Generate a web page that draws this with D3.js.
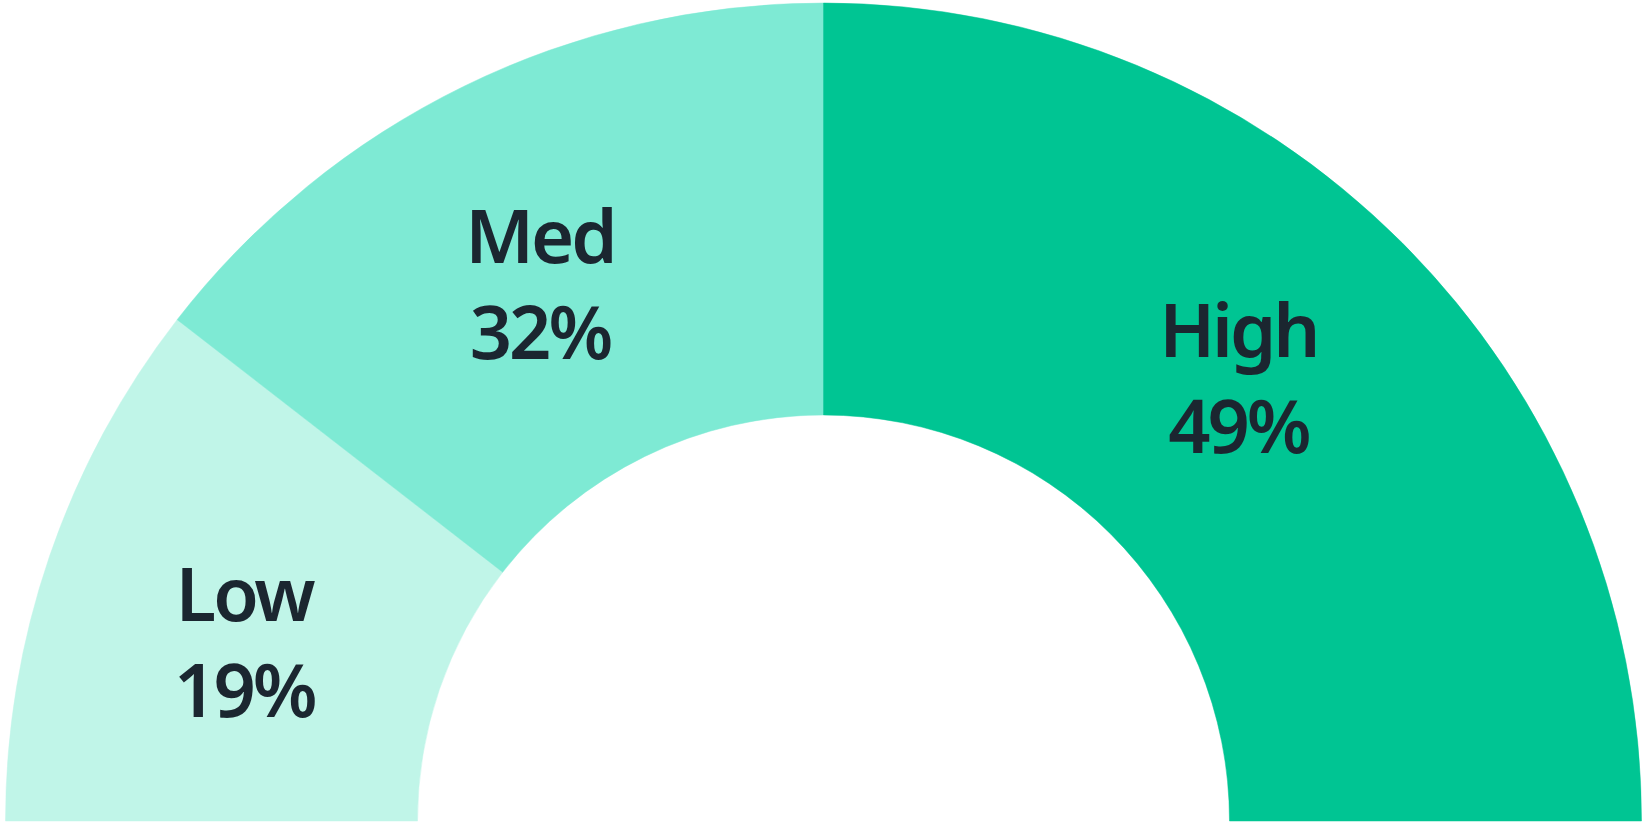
<!DOCTYPE html>
<html lang="en">
<head>
    <meta charset="UTF-8">
    <title>Gauge</title>
    <script src="https://cdn.jsdelivr.net/npm/d3@7"></script>
    <style>
        body { margin: 0; background: #fff; }
    </style>
</head>
<body>
    <script>
        // band names, where each band ends on the 0-100 gauge, and the share shown in the label
        const bands = ['Low', 'Med', 'High'];
        const bandEnds = [21, 50, 100];
        const shares = [19, 32, 49];
        const bandColors = ['#c0f5e8', '#7eead4', '#00c593'];

        const width = 1645;
        const height = 824;
        const cx = 823.5;
        const cy = 821;
        const outerR = 818;
        const innerR = 406;

        const svg = d3.select('body')
            .append('svg')
            .attr('width', width)
            .attr('height', height);

        const g = svg.append('g')
            .attr('transform', `translate(${cx},${cy})`);

        // gauge value -> angle (left end to right end of the half circle)
        const angle = d3.scaleLinear()
            .domain([0, 100])
            .range([-Math.PI / 2, Math.PI / 2]);

        const segments = bands.map((name, i) => ({
            name: name,
            share: shares[i],
            color: bandColors[i],
            start: i === 0 ? 0 : bandEnds[i - 1],
            end: bandEnds[i]
        }));

        const arc = d3.arc()
            .innerRadius(innerR)
            .outerRadius(outerR)
            .startAngle(d => angle(d.start))
            .endAngle(d => angle(d.end));

        g.selectAll('path.band')
            .data(segments)
            .enter()
            .append('path')
            .attr('class', 'band')
            .attr('d', arc)
            .attr('fill', d => d.color)
            .attr('stroke', d => d.color)
            .attr('stroke-width', 0.5);

        // labels sit a little before the middle of each band
        const labelR = 606;
        const labelShift = 1.8 * Math.PI / 180;
        const labels = g.selectAll('g.label')
            .data(segments)
            .enter()
            .append('g')
            .attr('class', 'label')
            .attr('transform', d => {
                const a = (angle(d.start) + angle(d.end)) / 2 - labelShift;
                return `translate(${labelR * Math.sin(a)},${-labelR * Math.cos(a)})`;
            });

        const labelFont = '"Source Sans Pro", "Noto Sans", sans-serif';

        labels.append('text')
            .attr('text-anchor', 'middle')
            .attr('y', -22)
            .style('font-family', labelFont)
            .style('font-weight', 600)
            .style('font-size', '74px')
            .style('letter-spacing', '-3px')
            .style('fill', '#1b2630')
            .text(d => d.name);

        labels.append('text')
            .attr('text-anchor', 'middle')
            .attr('y', 74)
            .style('font-family', labelFont)
            .style('font-weight', 600)
            .style('font-size', '74px')
            .style('letter-spacing', '-3px')
            .style('fill', '#1b2630')
            .text(d => d.share + '%');
    </script>
</body>
</html>
